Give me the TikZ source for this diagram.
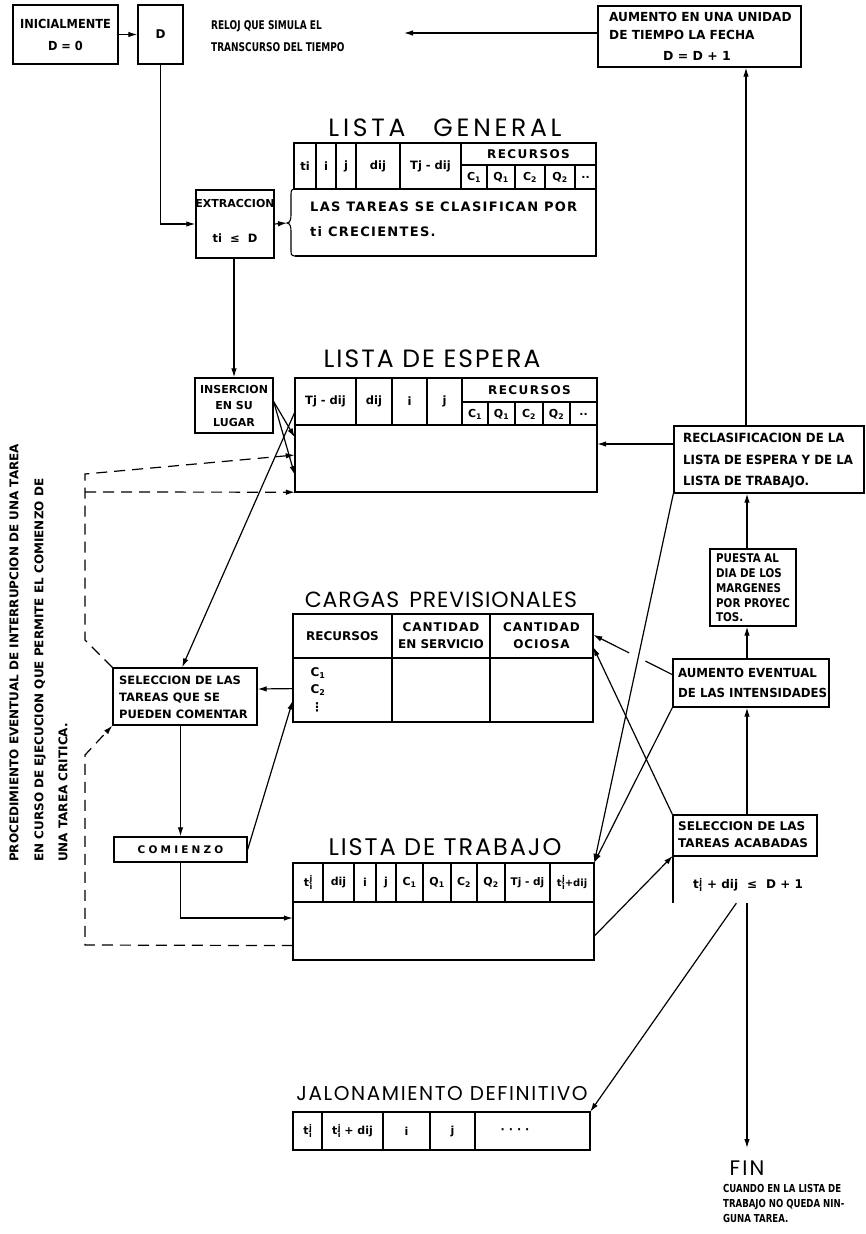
\documentclass[tikz,border=0pt]{standalone}
\usepackage{fontspec}
\setmainfont{DejaVu Sans}
\newfontfamily\titlefont{Poppins}
\usetikzlibrary{arrows.meta,calc,fit}
\newcommand\fs[2]{\fontsize{#1}{#2}\selectfont}
\newcommand\tij{t\hspace{0.5pt}\rlap{\raisebox{4.5pt}{\fs{8}{8}j}}\raisebox{-3pt}{\fs{8}{8}i}}
\newcommand\ls[1]{\addfontfeature{LetterSpace=#1}}
\begin{document}
\begin{tikzpicture}[x=1pt,y=-1pt,
  box/.style={draw,line width=1.3pt,inner sep=0pt},
  frame/.style={inner sep=0pt},
  rule/.style={line width=1.1pt},
  lab/.style={inner sep=0pt,font=\bfseries\fs{#1}{#1}},
  lab/.default=10,
  ml/.style 2 args={inner sep=0pt,align=left,font=\bfseries\fs{#1}{#2}},
  ttl/.style={inner sep=0pt,font=\titlefont\fs{#1}{#1}},
  con/.style={line width=1.2pt,-{Latex[length=9pt,width=5.5pt]}},
  wire/.style={line width=1.2pt},
  dsh/.style={line width=1.2pt,dash pattern=on 11pt off 7pt},
]
\fill[white] (0,0) rectangle (865,1234);
\useasboundingbox (0,0) rectangle (865,1234);

% ---------------- clock ----------------
\node[box,fit={(13,5)(118,64)}] (ini) {};
\node[ml={12.5}{22},align=center,xscale=0.91] (initxt) at (ini.center) {INICIALMENTE\\D = 0};
\node[box,fit={(138,5)(183,64)}] (clk) {};
\node[lab=12] (clktxt) at (clk.center) {D};
\draw[con] (ini.east) -- (clk.west);
\node[ml={12}{22},anchor=west,xscale=0.75] (reloj) at (211,36) {RELOJ QUE SIMULA EL\\TRANSCURSO DEL TIEMPO};

\node[box,fit={(598,6)(801,67)}] (aum) {};
\node[ml={12.5}{18},anchor=north west,xscale=0.97] (aumtxt) at (609,12) {AUMENTO EN UNA UNIDAD\\DE TIEMPO LA FECHA};
\node[lab=12.5] (aumd) at (697,56) {D = D + 1};
\coordinate (relojend) at (404,33);
\draw[con] (aum.west |- 0,33) -- (relojend);

% ---------------- lista general ----------------
\node[ttl=25] (lgt) at (445,128) {\ls{15}LISTA\hspace{28pt}GENERAL};
\node[frame,fit={(294,143)(596,256)}] (lg) {};
\draw[rule] (294,189) -- (294,143) -- (596,143) -- (596,256) -- (295,256);
\draw[rule] (294,189) -- (596,189);
\foreach \x in {316,336,356,400,461} \draw[rule] (\x,143) -- (\x,189);
\draw[rule] (461,165) -- (596,165);
\foreach \x in {487,515,545,575} \draw[rule] (\x,165) -- (\x,189);
\draw[rule] (295,189) .. controls (291,189) and (291,191) .. (291,196) -- (291,215)
  .. controls (291,219) and (290,223) .. (287,223)
  .. controls (290,223) and (291,227) .. (291,231) -- (291,250)
  .. controls (291,254) and (291,256) .. (295,256);
\coordinate (lgtip) at (287,223);
\node[lab=11.5] (lgh1) at (305,166) {ti};
\node[lab=11.5] (lgh2) at (326,166) {i};
\node[lab=11.5] (lgh3) at (346,166) {j};
\node[lab=11.5] (lgh4) at (378,166) {dij};
\node[lab=11.5] (lgh5) at (430.5,166) {Tj - dij};
\node[lab=12] (lgh6) at (528.5,154) {\ls{12}RECURSOS};
\node[lab=11] (lgh7) at (474,177.5) {C\textsubscript{1}};
\node[lab=11] (lgh8) at (501,177.5) {Q\textsubscript{1}};
\node[lab=11] (lgh9) at (530,177.5) {C\textsubscript{2}};
\node[lab=11] (lgh10) at (560,177.5) {Q\textsubscript{2}};
\node[lab=11] (lgh11) at (585.5,177.5) {..};
\node[ml={13}{25},anchor=west] (lgtxt) at (310,219.5) {\ls{10}LAS TAREAS SE CLASIFICAN POR\\\ls{10}ti CRECIENTES.};

% ---------------- extraction / insertion ----------------
\node[box,fit={(196,190)(274,258)}] (ext) {};
\node[lab=11] (exttxt) at (235,203) {EXTRACCION};
\node[lab=11.5] (extcond) at (235,238) {ti\hspace{8pt}≤\hspace{8pt}D};
\draw[con] (clk.south) |- (ext.west);
\draw[con] (ext.east) -- (lgtip);

\node[box,fit={(195,378)(273,433)}] (ins) {};
\node[ml={11}{16.5},align=center] (instxt) at (ins.center) {INSERCION\\EN SU\\LUGAR};
\draw[con] (ext.south -| ins.north) -- (ins.north);

% ---------------- lista de espera ----------------
\node[ttl=25] (let) at (432,359) {\ls{8}LISTA DE ESPERA};
\node[frame,fit={(295,378)(597,492)}] (le) {};
\draw[rule] (295,378) rectangle (597,492);
\draw[rule] (295,425) -- (597,425);
\foreach \x in {356,392,427,462} \draw[rule] (\x,378) -- (\x,425);
\draw[rule] (462,402) -- (597,402);
\foreach \x in {488,515,543,570} \draw[rule] (\x,402) -- (\x,425);
\node[lab=11.5] (leh1) at (325.5,401.5) {Tj - dij};
\node[lab=11.5] (leh2) at (374,401.5) {dij};
\node[lab=11.5] (leh3) at (409.5,401.5) {i};
\node[lab=11.5] (leh4) at (444.5,401.5) {j};
\node[lab=12] (leh5) at (529.5,390) {\ls{12}RECURSOS};
\node[lab=11] (leh6) at (475,414) {C\textsubscript{1}};
\node[lab=11] (leh7) at (501.5,414) {Q\textsubscript{1}};
\node[lab=11] (leh8) at (529,414) {C\textsubscript{2}};
\node[lab=11] (leh9) at (556.5,414) {Q\textsubscript{2}};
\node[lab=11] (leh10) at (583.5,414) {..};

\coordinate (insout) at ($(ins.north east)!0.43!(ins.south east)$);
\draw[con] (insout) -- ($(le.north west)!0.52!(le.south west)$);
\draw[con] (insout) -- ($(le.north west)!0.85!(le.south west)$);

% ---------------- right column ----------------
\node[box,fit={(674,426)(864,493)}] (rec) {};
\node[ml={12.7}{21.5},anchor=west,xscale=0.93] (rectxt) at (683,461) {RECLASIFICACION DE LA\\LISTA DE ESPERA Y DE LA\\LISTA DE TRABAJO.};
\draw[con] (rec.west |- 0,444) -- (le.east |- 0,444);
\draw[con] (rec.north -| 746,0) -- (aum.south -| 746,0);

\node[box,fit={(710,549)(796,626)}] (pue) {};
\node[ml={12}{14.8},anchor=west,xscale=0.86] (puetxt) at (716,588) {PUESTA AL\\DIA DE LOS\\MARGENES\\POR PROYEC\\TOS.};
\draw[con] (pue.north -| 747,0) -- (rec.south -| 747,0);

\node[box,fit={(673,659)(829,707)}] (aev) {};
\node[ml={12.5}{20},anchor=west,xscale=0.94] (aevtxt) at (678,683) {AUMENTO EVENTUAL\\DE LAS INTENSIDADES};
\draw[con] (aev.north -| 747,0) -- (pue.south -| 747,0);

\node[box,fit={(673,815)(817,856)}] (sah) {};
\node[ml={12}{17},anchor=west] (sahtxt) at (678,835) {SELECCION DE LAS\\TAREAS ACABADAS};
\node[frame,fit={(673,856)(817,903)}] (saf) {};
\draw[rule] (673,856) -- (673,903);
\node[lab=12] (saftxt) at (748,885) {\tij\hspace{5pt}+ dij\hspace{9pt}≤\hspace{9pt}D + 1};
\draw[con] (sah.north -| 747,0) -- (aev.south -| 747,0);
\coordinate (fintip) at (747,1148);
\draw[con] (saf.south -| 747,0) -- (fintip);

% ---------------- cargas previsionales ----------------
\node[ttl=22] (cat) at (441,600) {\ls{4}CARGAS\hspace{10pt}PREVISIONALES};
\node[frame,fit={(293,614)(593,722)}] (car) {};
\draw[rule] (293,614) rectangle (593,722);
\draw[rule] (293,658) -- (593,658);
\foreach \x in {392,490} \draw[rule] (\x,614) -- (\x,722);
\node[lab=12] (carh1) at (342.5,636) {RECURSOS};
\node[ml={12}{17},align=center] (carh2) at (441,636) {\ls{8}CANTIDAD\\EN SERVICIO};
\node[ml={12}{17},align=center] (carh3) at (541.5,636) {\ls{8}CANTIDAD\\\ls{8}OCIOSA};
\node[lab=12] (carc1) at (318,673) {C\textsubscript{1}};
\node[lab=12] (carc2) at (318,690) {C\textsubscript{2}};
\node[lab=12] (carc3) at (317,707) {⋮};

% ---------------- selection / start ----------------
\node[box,fit={(113,668)(257,725)}] (sel) {};
\node[ml={11.5}{17},anchor=west] (seltxt) at (119,697) {SELECCION DE LAS\\TAREAS QUE SE\\PUEDEN COMENTAR};
\node[box,fit={(114,837)(247,862)}] (com) {};
\node[lab=10.5] (comtxt) at (com.center) {\ls{30}COMIENZO};
\draw[con] (sel.south -| com.north) -- (com.north);
\draw[con] ($(car.north west)!0.69!(car.south west)$) -- (sel.east |- 0,689);
\draw[con] ($(com.north east)!0.5!(com.south east)$) -- ($(car.north west)!0.8!(car.south west)$);
\draw[con] ($(le.north west)!0.3!(le.south west)$) -- ($(sel.north west)!0.48!(sel.north east)$);

% ---------------- lista de trabajo ----------------
\node[ttl=24] (ltt) at (445,847) {\ls{8}LISTA DE TRABAJO};
\node[frame,fit={(293,863)(594,960)}] (lt) {};
\draw[rule] (293,863) rectangle (594,960);
\draw[rule] (293,902) -- (594,902);
\foreach \x in {323,354,376,396,423,451,477,505,550} \draw[rule] (\x,863) -- (\x,902);
\node[lab=11] (lth1) at (308,882.5) {\tij};
\node[lab=11] (lth2) at (338.5,882.5) {dij};
\node[lab=11] (lth3) at (365,882.5) {i};
\node[lab=11] (lth4) at (386,882.5) {j};
\node[lab=11] (lth5) at (409.5,882.5) {C\textsubscript{1}};
\node[lab=11] (lth6) at (437,882.5) {Q\textsubscript{1}};
\node[lab=11] (lth7) at (464,882.5) {C\textsubscript{2}};
\node[lab=11] (lth8) at (491,882.5) {Q\textsubscript{2}};
\node[lab=10.5] (lth9) at (527.5,882.5) {Tj - dj};
\node[lab=10] (lth10) at (572,882.5) {\tij+dij};
\draw[con] (com.south) |- ($(lt.north west)!0.567!(lt.south west)$);

% links between the right column and the tables
\draw[con] (rec.south west) -- (lt.north east);
\draw[con] (aev.south west) -- (lt.north east);
\coordinate (aevout) at ($(aev.north west)!0.33!(aev.south west)$);
\coordinate (carin) at ($(car.north east)!0.194!(car.south east)$);
\draw[wire] (aevout) -- ($(aevout)!0.34!(carin)$);
\draw[con] ($(aevout)!0.545!(carin)$) -- (carin);
\draw[con] (sah.north west) -- ($(car.north east)!0.306!(car.south east)$);
\draw[con] ($(lt.north east)!0.753!(lt.south east)$) -- (saf.north west);

% ---------------- jalonamiento ----------------
\node[ttl=20] (jat) at (442,1094) {\ls{8}JALONAMIENTO DEFINITIVO};
\node[frame,fit={(293,1112)(590,1150)}] (jal) {};
\draw[rule] (293,1112) rectangle (590,1150);
\foreach \x in {322,383,430,475} \draw[rule] (\x,1112) -- (\x,1150);
\node[lab=11] (jah1) at (307.5,1131) {\tij};
\node[lab=11] (jah2) at (352.5,1131) {\tij\ + dij};
\node[lab=11] (jah3) at (406.5,1131) {i};
\node[lab=11] (jah4) at (452.5,1131) {j};
\node[lab=11] (jah5) at (515,1131) {·\hspace{4pt}·\hspace{4pt}·\hspace{4pt}·};
\draw[con] ($(saf.south west)!0.44!(saf.south east)$) -- (jal.north east);

% ---------------- end ----------------
\node[ttl=21] (fin) at (747,1168) {\ls{10}FIN};
\node[ml={11}{15},anchor=north west,xscale=0.78] (fintxt) at (723,1184) {CUANDO EN LA LISTA DE\\TRABAJO NO QUEDA NIN-\\GUNA TAREA.};

% ---------------- interruption procedure (dashed) ----------------
\coordinate (ua) at (85,640);
\coordinate (ub) at (85,474);
\coordinate (uc) at (85,492);
\draw[dsh,-{Latex[length=9pt,width=5.5pt]}] (sel.north west) -- (ua) -- (ub) -- ($(le.north west)!0.675!(le.south west)$);
\draw[dsh,-{Latex[length=9pt,width=5.5pt]}] (uc) -- (le.south west);
\coordinate (la) at (85,945);
\coordinate (lb) at (85,755);
\draw[dsh,-{Latex[length=9pt,width=5.5pt]}] ($(lt.north west)!0.85!(lt.south west)$) -- (la) -- (lb) -- (sel.south west);

\node[lab=12,rotate=90,anchor=west] (pr1) at (14,862) {PROCEDIMIENTO EVENTUAL DE INTERRUPCION DE UNA TAREA};
\node[lab=12,rotate=90,anchor=west] (pr2) at (40,862) {EN CURSO DE EJECUCION QUE PERMITE EL COMIENZO DE};
\node[lab=12,rotate=90,anchor=west] (pr3) at (63,862) {UNA TAREA CRITICA.};
\end{tikzpicture}
\end{document}
